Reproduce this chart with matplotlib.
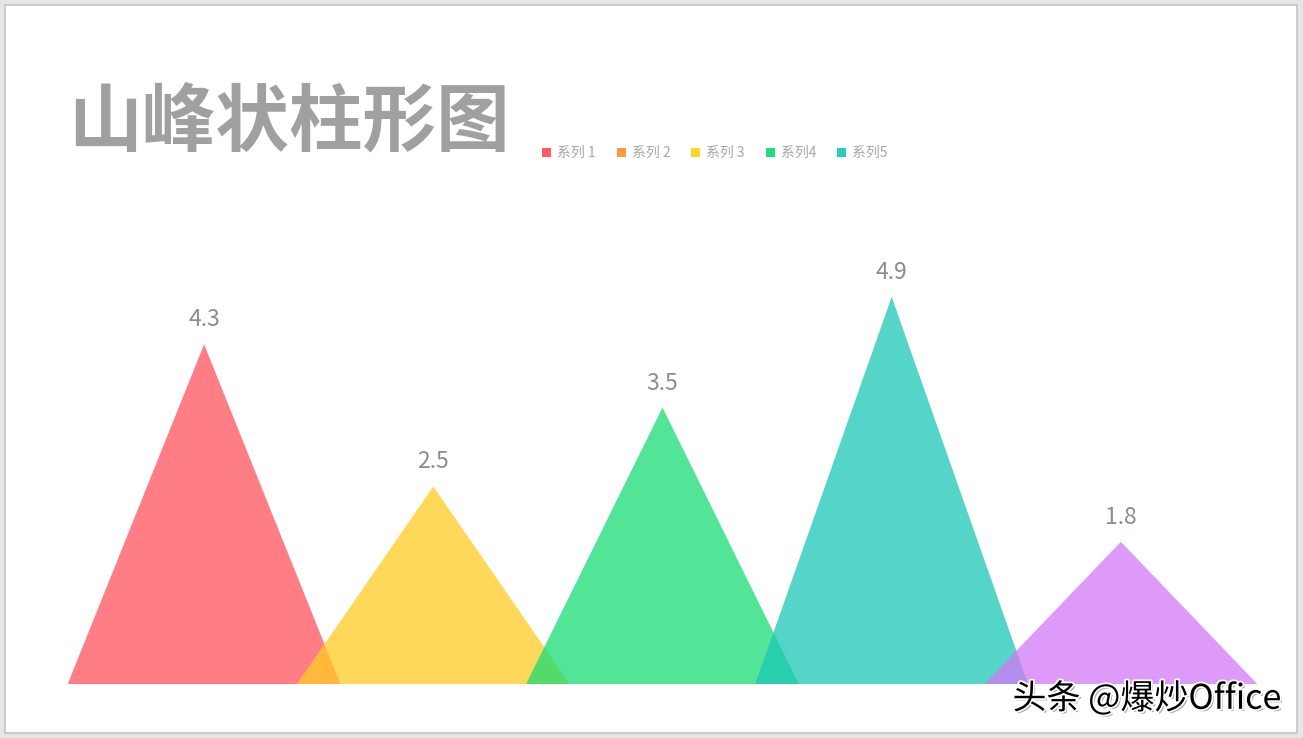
import numpy as np
import matplotlib
matplotlib.use('Agg')
import matplotlib.pyplot as plt
import matplotlib.patheffects as pe
from matplotlib.patches import Rectangle

plt.rcParams['font.family'] = ['Noto Sans CJK SC', 'DejaVu Sans']

# data
categories = ['类别1', '类别2', '类别3', '类别4', '类别5']
values = [4.3, 2.5, 3.5, 4.9, 1.8]
peak_colors = ['#FF535C', '#FFCC23', '#18DC74', '#1CC7B6', '#D378F7']
legend_labels = ['系列 1', '系列 2', '系列 3', '系列4', '系列5']
legend_colors = ['#FF5B66', '#FF9A40', '#FFD52B', '#25DC7D', '#26CDBE']
title = '山峰状柱形图'
W, H = 1303, 738

fig = plt.figure(figsize=(W / 100, H / 100), dpi=100)
fig.patch.set_facecolor('#E6E6E6')

# white slide with thin grey border
slide = Rectangle((5 / W, 5 / H), 1292 / W, 728 / H, transform=fig.transFigure,
                  facecolor='white', edgecolor='#C4C4C4', linewidth=1.2, zorder=-5)
fig.patches.append(slide)

# plot area
ax = fig.add_axes([89.5 / W, (H - 684) / H, 1146 / W, 474 / H])
ax.set_xlim(-0.5, len(values) - 0.5)
ax.set_ylim(0, 6)
ax.axis('off')

w = 1.19  # triangle base width in category units
for i, (v, c) in enumerate(zip(values, peak_colors)):
    ax.fill([i - w / 2, i, i + w / 2], [0, v, 0], color=c, alpha=0.75,
            linewidth=0, clip_on=False, zorder=2 + i)
    ax.annotate(f'{v}', (i, v), xytext=(0, 13), textcoords='offset pixels',
                ha='center', va='bottom', fontsize=16.5, color='#8C8C8C')

# title
fig.text(68 / W, 1 - 123 / H, title, fontsize=53, fontweight='bold',
         color='#A0A0A0', ha='left', va='center')

# legend
leg_x = [542, 617, 691, 766, 837]
for x, lab, c in zip(leg_x, legend_labels, legend_colors):
    fig.patches.append(Rectangle((x / W, 1 - 157 / H), 9 / W, 9 / H,
                                 transform=fig.transFigure, facecolor=c,
                                 edgecolor='none'))
    fig.text((x + 15) / W, 1 - 152.5 / H, lab, fontsize=10, color='#A6A6A6',
             ha='left', va='center')

# watermark
fig.text(1281 / W, 1 - 699 / H, '头条 @爆炒Office', fontsize=24.5, color='black',
         ha='right', va='center', zorder=10,
         path_effects=[pe.withSimplePatchShadow(offset=(1.5, -1.5),
                                                shadow_rgbFace='#777777', alpha=0.7),
                       pe.withStroke(linewidth=2.5, foreground='white')])

fig.savefig('out.png', dpi=100, facecolor=fig.get_facecolor())
